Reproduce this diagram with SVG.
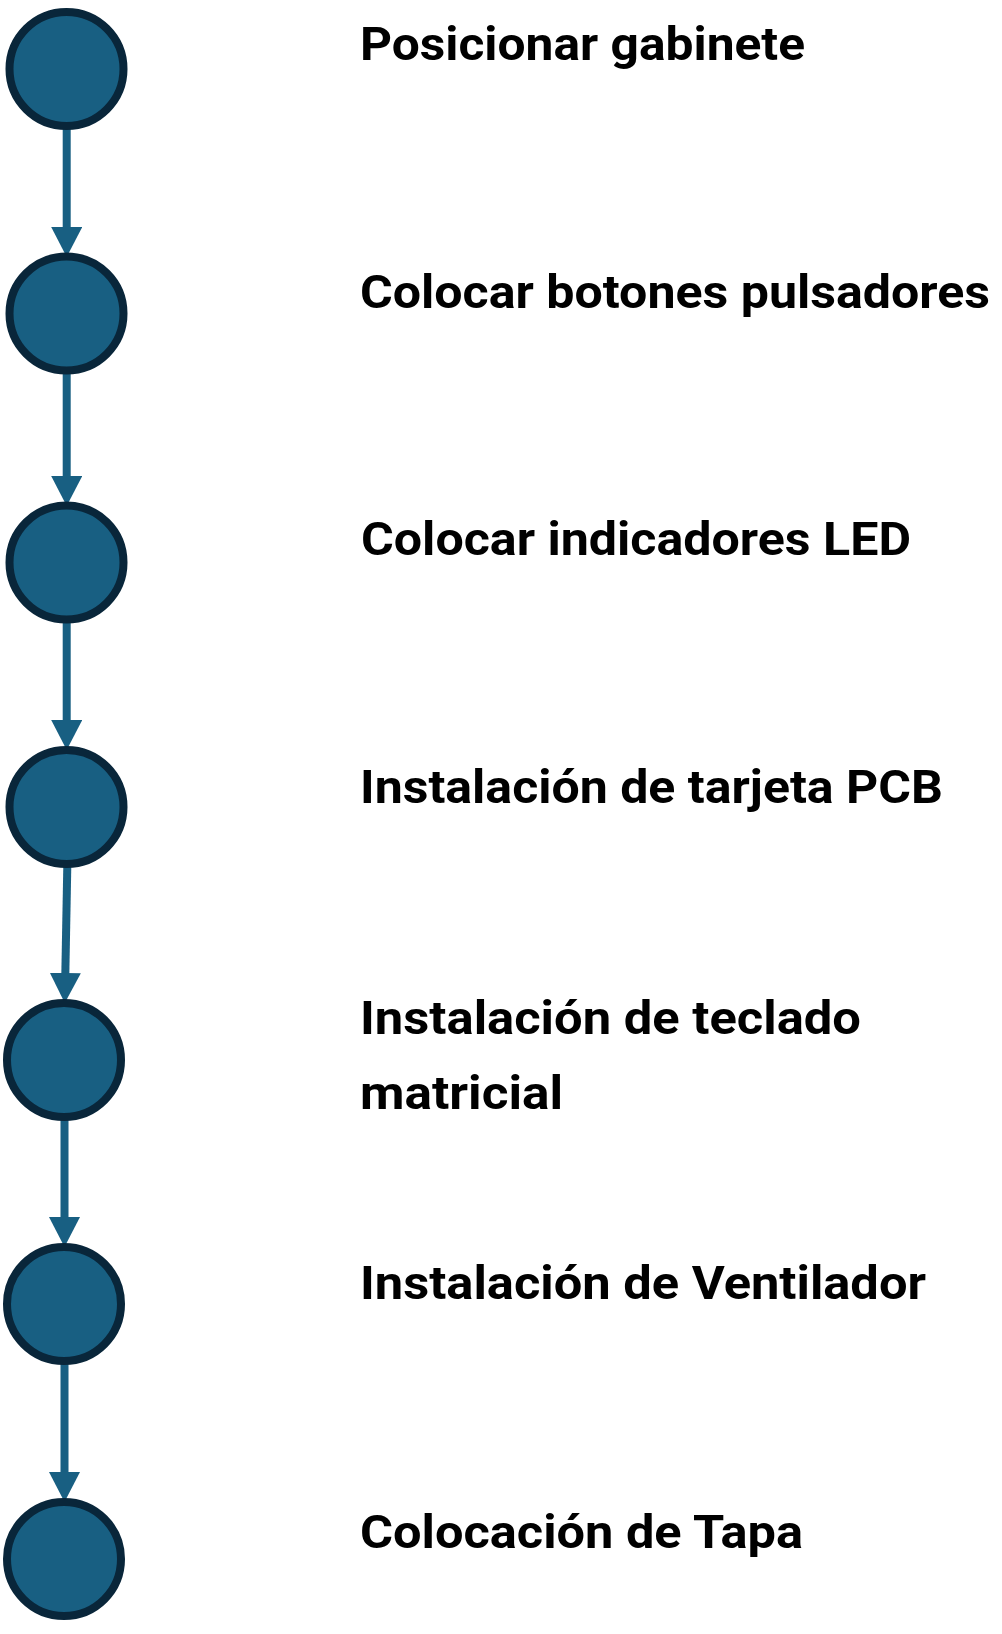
<svg xmlns="http://www.w3.org/2000/svg" width="1002" height="1634" viewBox="0 0 1002 1634">
<style>
.n{fill:#185F82;stroke:#09263A;stroke-width:8}
.c{stroke:#185F82;stroke-width:8;fill:none;marker-end:url(#ah)}
.t{font-family:Roboto,"Liberation Sans",sans-serif;font-weight:bold;font-size:47px;fill:#000}
</style>
<defs>
<marker id="ah" viewBox="0 0 30 31" refX="2" refY="15.5" markerWidth="30" markerHeight="31" markerUnits="userSpaceOnUse" orient="auto">
<path d="M0,0 L30,15.5 L0,31 z" fill="#185F82"/>
</marker>
</defs>
<rect width="1002" height="1634" fill="#fff"/>
<g id="connectors">
<path class="c" d="M66.7,128 L66.7,229"/>
<path class="c" d="M66.7,372 L66.7,478"/>
<path class="c" d="M66.7,621 L66.7,722"/>
<path class="c" d="M67.3,866 L65.3,975"/>
<path class="c" d="M64.5,1119 L64.5,1219"/>
<path class="c" d="M64.5,1363 L64.5,1474"/>
</g>
<g id="n1"><circle class="n" cx="66.5" cy="69" r="57"/><text class="t" x="360" y="60" textLength="445" lengthAdjust="spacingAndGlyphs">Posicionar gabinete</text></g>
<g id="n2"><circle class="n" cx="66.5" cy="313.5" r="57"/><text class="t" x="360" y="308" textLength="630" lengthAdjust="spacingAndGlyphs">Colocar botones pulsadores</text></g>
<g id="n3"><circle class="n" cx="66.5" cy="562.5" r="57"/><text class="t" x="361" y="555" textLength="550" lengthAdjust="spacingAndGlyphs">Colocar indicadores LED</text></g>
<g id="n4"><circle class="n" cx="66.5" cy="807" r="57"/><text class="t" x="360" y="803" textLength="583" lengthAdjust="spacingAndGlyphs">Instalación de tarjeta PCB</text></g>
<g id="n5"><circle class="n" cx="64" cy="1060" r="57"/><text class="t" x="360" y="1034" textLength="501" lengthAdjust="spacingAndGlyphs">Instalación de teclado</text><text class="t" x="360" y="1109" textLength="203" lengthAdjust="spacingAndGlyphs">matricial</text></g>
<g id="n6"><circle class="n" cx="64" cy="1304" r="57"/><text class="t" x="360" y="1299" textLength="566" lengthAdjust="spacingAndGlyphs">Instalación de Ventilador</text></g>
<g id="n7"><circle class="n" cx="64" cy="1559" r="57"/><text class="t" x="360" y="1548" textLength="443" lengthAdjust="spacingAndGlyphs">Colocación de Tapa</text></g>
</svg>
